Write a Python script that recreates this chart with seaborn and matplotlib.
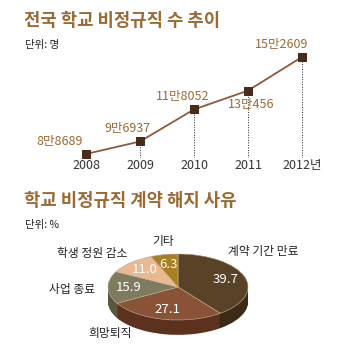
import numpy as np
import pandas as pd
import matplotlib
matplotlib.use('Agg')
import matplotlib.pyplot as plt
import seaborn as sns

# ---- data ----
years = [2008, 2009, 2010, 2011, 2012]
year_labels = ['2008', '2009', '2010', '2011', '2012년']
workers = [88689, 96937, 118052, 130456, 152609]
worker_labels = ['8만8689', '9만6937', '11만8052', '13만456', '15만2609']

reasons = ['계약 기간 만료', '희망퇴직', '사업 종료', '학생 정원 감소', '기타']
shares = [39.7, 27.1, 15.9, 11.0, 6.3]

# ---- style ----
sns.set_theme(style='white')
plt.rcParams['font.family'] = ['Noto Sans CJK KR', 'DejaVu Sans']

W, H = 339, 350
fig = plt.figure(figsize=(W / 100, H / 100), dpi=100)
fig.patch.set_facecolor('white')


def fx(px):
    return px / W


def fy(py):
    return 1 - py / H


title_color = '#9a6a34'
label_color = '#9b6a30'

# ---- titles ----
fig.text(fx(24), fy(21), '전국 학교 비정규직 수 추이', fontsize=12.8, fontweight='bold',
         color=title_color, va='center', ha='left')
fig.text(fx(25), fy(45), '단위: 명', fontsize=7.5, color='#222222', va='center', ha='left')
fig.text(fx(24), fy(201), '학교 비정규직 계약 해지 사유', fontsize=12.8, fontweight='bold',
         color=title_color, va='center', ha='left')
fig.text(fx(25), fy(225), '단위: %', fontsize=7.5, color='#222222', va='center', ha='left')

# ---- line chart ----
ax1 = fig.add_axes([fx(60), fy(158), 265 / W, 108 / H])
df = pd.DataFrame({'year': years, 'workers': workers})
ylo, yhi = 86050, 157220
ax1.vlines(df['year'], ylo, df['workers'], colors='#222222', linestyles=(0, (1, 1.6)),
           lw=0.7, zorder=1)
sns.lineplot(data=df, x='year', y='workers', ax=ax1, color='#8b5a3a', lw=1.3,
             marker='s', markersize=5.5, markerfacecolor='#4a2a18',
             markeredgecolor='#4a2a18', zorder=3)
ax1.set_xlim(2008 - 26 / 54, 2012 + 23 / 54)
ax1.set_ylim(ylo, yhi)
ax1.set_xticks(years)
ax1.set_xticklabels(year_labels, fontsize=9, color='#333333')
ax1.tick_params(axis='x', length=0, pad=1)
ax1.set_yticks([])
ax1.set_xlabel('')
ax1.set_ylabel('')
for s in ax1.spines.values():
    s.set_visible(False)
ax1.patch.set_alpha(0)

offsets = [(-26, 12), (-12, 13), (-11, 13), (3, -14), (-20, 12)]
for x, y, lab, (dx, dy) in zip(years, workers, worker_labels, offsets):
    ax1.annotate(lab, (x, y), xytext=(dx, dy), textcoords='offset pixels',
                 ha='center', va='center', fontsize=9, color=label_color)

# ---- pie chart (pseudo 3D) ----
top_colors = ['#5a4226', '#8a5236', '#7e7b5f', '#e9b991', '#a97f1f']
side_colors = ['#3c2a16', '#5c321f', '#5a573f', '#b08868', '#7a5a10']

rx, ry = 70, 33
cx, cy = 178, 287
xl = (-1.1, 1.1)
yl = (-1.55, 1.1)
ax2 = fig.add_axes([fx(cx + xl[0] * rx), fy(cy - yl[0] * ry),
                    (xl[1] - xl[0]) * rx / W, (yl[1] - yl[0]) * ry / H])
thick = 0.45
for d in np.linspace(thick, 0.0, 24):
    ax2.pie(shares, colors=side_colors, startangle=90, counterclock=False,
            center=(0, -d), radius=1, wedgeprops=dict(lw=0))
wedges, texts, autotexts = ax2.pie(
    shares, colors=top_colors, startangle=90, counterclock=False,
    center=(0, 0), radius=1, autopct='%.1f', pctdistance=0.71,
    wedgeprops=dict(lw=0.4, edgecolor='#c8b8a0'),
    textprops=dict(color='white', fontsize=9.5))
ax2.set_aspect('auto')
ax2.set_xlim(*xl)
ax2.set_ylim(*yl)
ax2.axis('off')

label_pos = {
    '계약 기간 만료': (263, 252),
    '희망퇴직': (110, 334),
    '사업 종료': (72, 290),
    '학생 정원 감소': (92, 253),
    '기타': (163, 242),
}
for r in reasons:
    px, py = label_pos[r]
    fig.text(fx(px), fy(py), r, fontsize=8.5, color='#222222', ha='center', va='center')

fig.savefig('out.png', dpi=100, facecolor='white')
